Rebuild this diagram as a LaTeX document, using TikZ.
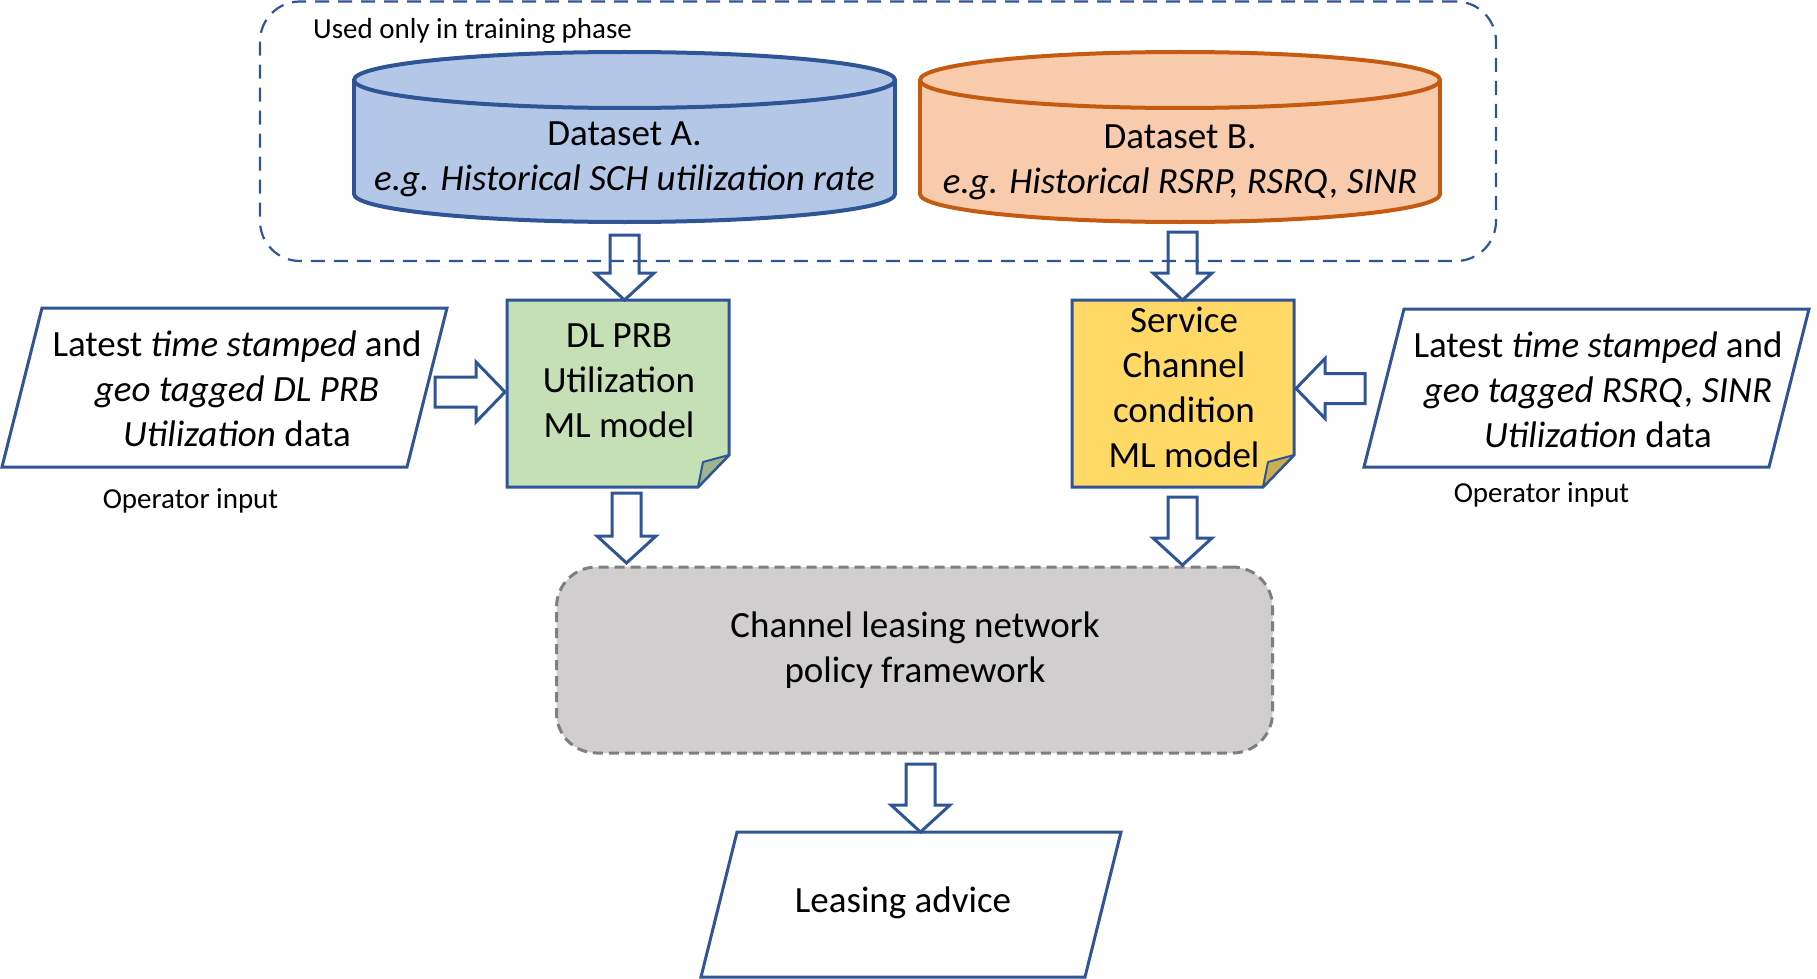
\documentclass[tikz,border=0pt]{standalone}
\usepackage{fontspec}
\setmainfont{Carlito}
\usetikzlibrary{calc}
\definecolor{obl}{HTML}{2F5597}
\definecolor{cylAf}{HTML}{B4C7E7}
\definecolor{cylBf}{HTML}{F8CBAD}
\definecolor{cylBd}{HTML}{C55A11}
\definecolor{grn}{HTML}{C5E0B4}
\definecolor{grnd}{HTML}{9EB390}
\definecolor{yel}{HTML}{FFD966}
\definecolor{yeld}{HTML}{CCAE52}
\definecolor{gryf}{HTML}{D0CECE}
\definecolor{gryd}{HTML}{7F7F7F}
\tikzset{
  bigtxt/.style={font=\fontsize{37pt}{45pt}\selectfont, align=center, inner sep=0pt, anchor=base},
  smalltxt/.style={font=\fontsize{29pt}{35pt}\selectfont, inner sep=0pt, anchor=base},
  blockarrow/.style={draw=obl, fill=white, line width=3pt, line join=miter},
  outline/.style={draw=obl, line width=3pt},
  foldstyle/.style={draw=obl, line width=2pt, line join=round},
  ghost/.style={inner sep=0pt, outer sep=0pt, draw=none},
  trainbox/.style={draw=obl, line width=2.2pt, dash pattern=on 14pt off 9pt, rounded corners=40pt,
    minimum width=1236pt, minimum height=259.5pt, inner sep=0pt, outer sep=0pt},
  policybox/.style={draw=gryd, fill=gryf, line width=3pt, dash pattern=on 10pt off 6pt, rounded corners=40pt,
    minimum width=716pt, minimum height=186pt, inner sep=0pt, outer sep=0pt},
}
% vertical block arrow from #1 (top of shaft) down to y of #2 (tip)
\newcommand\varrow[2]{\draw[blockarrow] let \p1=(#1), \p2=(#2) in
  (\x1-14.5pt,\y1) -- (\x1+14.5pt,\y1) -- (\x1+14.5pt,\y2+27pt) -- (\x1+29.5pt,\y2+27pt)
  -- (\x1,\y2) -- (\x1-29.5pt,\y2+27pt) -- (\x1-14.5pt,\y2+27pt) -- cycle;}
% horizontal block arrow pointing right
\newcommand\harrowR[2]{\draw[blockarrow] let \p1=(#1), \p2=(#2) in
  (\x1,\y1+15pt) -- (\x2-29pt,\y1+15pt) -- (\x2-29pt,\y1+30pt) -- (\x2,\y1)
  -- (\x2-29pt,\y1-30pt) -- (\x2-29pt,\y1-15pt) -- (\x1,\y1-15pt) -- cycle;}
% horizontal block arrow pointing left
\newcommand\harrowL[2]{\draw[blockarrow] let \p1=(#1), \p2=(#2) in
  (\x1,\y1+15pt) -- (\x2+29pt,\y1+15pt) -- (\x2+29pt,\y1+30pt) -- (\x2,\y1)
  -- (\x2+29pt,\y1-30pt) -- (\x2+29pt,\y1-15pt) -- (\x1,\y1-15pt) -- cycle;}
% database cylinder: cx, rx, top y, bottom y, ry, fill, draw
\newcommand\dbcyl[7]{%
  \filldraw[fill=#6, draw=#7, line width=4pt] (#1,#4) ellipse ({#2} and {#5});
  \fill[#6] (#1-#2,#3) rectangle (#1+#2,#4);
  \draw[#7, line width=4pt] (#1-#2,#3) -- (#1-#2,#4) (#1+#2,#3) -- (#1+#2,#4);
  \filldraw[fill=#6, draw=#7, line width=4pt] (#1,#3) ellipse ({#2} and {#5});
}
\begin{document}
\begin{tikzpicture}[x=1pt,y=-1pt]
\useasboundingbox (0,0) rectangle (1817,979);

% ---- datasets (cylinders)
\dbcyl{624.5}{270.5}{80}{194}{28}{cylAf}{obl}
\node[ghost, minimum width=541pt, minimum height=170pt] (dsA) at (624.5,137) {};
\node[bigtxt] (dsAtxt) at (624.5,190) {Dataset A.\\\textit{e.g. Historical SCH utilization rate}};

\dbcyl{1180}{260}{80}{194}{28}{cylBf}{cylBd}
\node[ghost, minimum width=520pt, minimum height=170pt] (dsB) at (1180,137) {};
\node[bigtxt] (dsBtxt) at (1180,193) {Dataset B.\\\textit{e.g. Historical RSRP, RSRQ, SINR}};

% ---- ML model boxes (folded corner)
\node[ghost, minimum width=222pt, minimum height=187pt] (dlprb) at (618,393.5) {};
\filldraw[fill=grn, outline] (dlprb.north west) -- (dlprb.north east) -- ($(dlprb.south east)+(0,-32)$)
  -- ($(dlprb.south east)+(-31,0)$) -- (dlprb.south west) -- cycle;
\filldraw[fill=grnd, foldstyle] ($(dlprb.south east)+(0,-32)$) -- ($(dlprb.south east)+(-31,0)$)
  -- ($(dlprb.south east)+(-26,-25)$) -- cycle;
\node[bigtxt] (dlprbtxt) at (619,437) {DL PRB\\Utilization\\ML model};

\node[ghost, minimum width=222pt, minimum height=187pt] (scc) at (1183,393.5) {};
\filldraw[fill=yel, outline] (scc.north west) -- (scc.north east) -- ($(scc.south east)+(0,-32)$)
  -- ($(scc.south east)+(-31,0)$) -- (scc.south west) -- cycle;
\filldraw[fill=yeld, foldstyle] ($(scc.south east)+(0,-32)$) -- ($(scc.south east)+(-31,0)$)
  -- ($(scc.south east)+(-26,-25)$) -- cycle;
\node[bigtxt] (scctxt) at (1184,467) {Service\\Channel\\condition\\ML model};

% ---- operator inputs (parallelograms)
\node[ghost, minimum width=445pt, minimum height=159pt] (inA) at (224.5,387.5) {};
\draw[outline] (42,308) -- (447,308) -- (407,467) -- (2,467) -- cycle;
\node[bigtxt] (inAtxt) at (237,446) {Latest \textit{time stamped} and\\\textit{geo tagged DL PRB}\\\textit{Utilization} data};
\node[smalltxt] (opA) at (190.5,508) {Operator input};

\node[ghost, minimum width=445pt, minimum height=158pt] (inB) at (1586.5,388) {};
\draw[outline] (1404,309) -- (1809,309) -- (1769,467) -- (1364,467) -- cycle;
\node[bigtxt] (inBtxt) at (1598,447) {Latest \textit{time stamped} and\\\textit{geo tagged RSRQ, SINR}\\\textit{Utilization} data};
\node[smalltxt] (opB) at (1541.5,502) {Operator input};

% ---- policy framework
\node[policybox] (policy) at (914.5,660) {};
\node[bigtxt] (policytxt) at (915,682) {Channel leasing network\\policy framework};

% ---- leasing advice
\node[ghost, minimum width=420pt, minimum height=145pt] (advice) at (911,904.5) {};
\draw[outline] (737,832) -- (1121,832) -- (1085,977) -- (701,977) -- cycle;
\node[bigtxt] (advicetxt) at (903,912) {Leasing advice};

% ---- block arrows
\coordinate (aA) at (624.5,235);
\coordinate (aB) at (1182.5,232);
\coordinate (aC) at (626.5,493);
\coordinate (aD) at (1182.5,497);
\coordinate (aE) at (920.5,764);
\coordinate (aF) at (435,392);
\coordinate (aG) at (1365,388.5);
\varrow{aA}{dlprb.north}
\varrow{aB}{scc.north}
\varrow{aC}{$(policy.north)+(0,-4)$}
\varrow{aD}{$(policy.north)+(0,-2)$}
\varrow{aE}{advice.north}
\harrowR{aF}{$(dlprb.west)+(-2,0)$}
\harrowL{aG}{$(scc.east)+(2,0)$}

% ---- training-phase frame
\node[trainbox] (train) at (878,131.25) {};
\node[smalltxt, anchor=base west] (trainlbl) at (313,39) {Used only in training phase};
\end{tikzpicture}
\end{document}
